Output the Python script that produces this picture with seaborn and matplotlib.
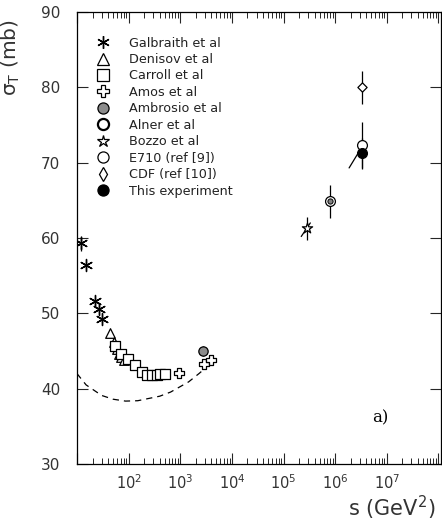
import numpy as np
import pandas as pd
import matplotlib
matplotlib.use("Agg")
import matplotlib.pyplot as plt
from matplotlib.lines import Line2D
import seaborn as sns

# ---------------- data ----------------
galbraith_s = [11.9, 15.1, 21.9, 26.2, 30.4]
galbraith_sig = [59.3, 56.4, 51.7, 50.6, 49.3]
galbraith_err = [1.0, 0.4, 0.4, 0.4, 0.4]

denisov_s = [43, 51, 55, 59, 66, 72, 80]
denisov_sig = [47.4, 46.2, 45.7, 45.3, 44.6, 44.2, 43.8]

carroll_s = [55, 72, 97, 131, 181, 227, 284, 353, 410, 515]
carroll_sig = [45.6, 44.6, 44.0, 43.1, 42.2, 41.85, 41.75, 41.8, 41.9, 41.9]

amos_s = [930, 2840, 3940]
amos_sig = [42.1, 43.3, 43.85]
amos_err = [0.3, 0.3, 0.3]

ambrosio_s = [2760]
ambrosio_sig = [45.0]
ambrosio_err = [0.6]

alner_s = [8.1e5]
alner_sig = [64.9]
alner_err = [2.2]

bozzo_s = [2.9e5]
bozzo_sig = [61.3]
bozzo_err = [1.5]

e710_s = [3.3e6]
e710_sig = [72.3]
e710_err = [3.1]

cdf_s = [3.3e6]
cdf_sig = [80.0]
cdf_err = [2.2]

this_s = [3.3e6]
this_sig = [71.3]
this_err = [2.0]

# dashed curve (theoretical)
curve_s = [10, 15, 30, 50, 87, 150, 245, 400, 650, 1450, 2300, 2800]
curve_sig = [42.0, 40.5, 39.1, 38.6, 38.35, 38.4, 38.7, 39.0, 39.55, 40.9, 42.0, 42.5]

# slanted correlation segments
corr1_s = [2.2e5, 3.3e5]
corr1_sig = [60.2, 62.0]
corr2_s = [1.86e6, 3.3e6]
corr2_sig = [69.3, 72.1]

legend_labels = ["Galbraith et al", "Denisov et al", "Carroll et al", "Amos et al",
                 "Ambrosio et al", "Alner et al", "Bozzo et al", "E710 (ref [9])",
                 "CDF (ref [10])", "This experiment"]

xtick_vals = [1e1, 1e2, 1e3, 1e4, 1e5, 1e6, 1e7, 1e8]
xtick_labels = ["", r"$10^2$", r"$10^3$", r"$10^4$", r"$10^5$", r"$10^6$", r"$10^7$", ""]
ytick_vals = [30, 40, 50, 60, 70, 80, 90]

# ---------------- figure ----------------
sns.set_style("white")
plt.rcParams['font.family'] = ['DejaVu Sans']
fig = plt.figure(figsize=(4.42, 5.23), dpi=100)
ax = fig.add_axes([77/442, 1-464/523, 364/442, 452/523])

K = "black"
ms = 42

def sc(s, sig, marker, face, size=ms, lw=0.9, z=3):
    df = pd.DataFrame({"s": s, "sig": sig})
    sns.scatterplot(data=df, x="s", y="sig", ax=ax, marker=marker, s=size,
                    facecolor=face, edgecolor=K, linewidth=lw, zorder=z, legend=False)

def eb(s, sig, err):
    ax.errorbar(s, sig, yerr=err, fmt="none", ecolor=K, elinewidth=0.9, capsize=0, zorder=2)

# dashed curve
sns.lineplot(x=curve_s, y=curve_sig, ax=ax, color=K, lw=0.9, linestyle=(0, (5, 4)),
             sort=False, estimator=None)

# correlation segments
sns.lineplot(x=corr1_s, y=corr1_sig, ax=ax, color=K, lw=0.9, sort=False, estimator=None)
sns.lineplot(x=corr2_s, y=corr2_sig, ax=ax, color=K, lw=0.9, sort=False, estimator=None)

# error bars
eb(galbraith_s, galbraith_sig, galbraith_err)
eb(amos_s, amos_sig, amos_err)
eb(ambrosio_s, ambrosio_sig, ambrosio_err)
eb(alner_s, alner_sig, alner_err)
eb(bozzo_s, bozzo_sig, bozzo_err)
eb(e710_s, e710_sig, e710_err)
eb(cdf_s, cdf_sig, cdf_err)
eb(this_s, this_sig, this_err)

# markers
ast = (6, 2, 0)
sc(galbraith_s, galbraith_sig, ast, K, size=75, lw=1.0)
sc(denisov_s, denisov_sig, "^", "white", size=48)
sc(carroll_s, carroll_sig, "s", "white", size=58)
sc(amos_s, amos_sig, "P", "white", size=50)
sc(ambrosio_s, ambrosio_sig, "o", "0.55", size=45)
sc(alner_s, alner_sig, "o", "white", size=50)
sc(alner_s, alner_sig, "o", "0.5", size=14, lw=0.7, z=4)
sc(bozzo_s, bozzo_sig, "*", "white", size=60)
sc(e710_s, e710_sig, "o", "white", size=50)
sc(cdf_s, cdf_sig, "D", "white", size=22)
sc(this_s, this_sig, "o", K, size=50, z=5)

# legend
h = []
def lh(marker, face, msz, mew=0.9):
    return Line2D([], [], linestyle="none", marker=marker, markerfacecolor=face,
                  markeredgecolor=K, markersize=msz, markeredgewidth=mew)
h.append(lh(ast, K, 9, 1.0))
h.append(lh("^", "white", 8))
h.append(lh("s", "white", 8))
h.append(lh("P", "white", 8))
h.append(lh("o", "0.55", 8))
h.append(lh("o", "white", 8, 1.6))
h.append(lh("*", "white", 9))
h.append(lh("o", "white", 8))
h.append(lh("d", "white", 7))
h.append(lh("o", K, 8))
leg = ax.legend(h, legend_labels, loc="upper left", bbox_to_anchor=(0.035, 0.957),
                frameon=False, fontsize=9.2, labelspacing=0.27, handletextpad=1.5,
                handlelength=1.2, borderaxespad=0)
for t in leg.get_texts():
    t.set_color("#222222")

# axes
ax.set_xscale("log")
ax.set_xlim(10, 1.12e8)
ax.set_ylim(30, 90)
ax.set_xticks(xtick_vals)
ax.set_xticklabels(xtick_labels)
ax.set_yticks(ytick_vals)
ax.xaxis.set_minor_locator(matplotlib.ticker.LogLocator(base=10, subs=np.arange(2, 10), numticks=20))
ax.xaxis.set_minor_formatter(matplotlib.ticker.NullFormatter())
ax.tick_params(axis="x", which="major", direction="in", length=8, width=0.8,
               top=True, bottom=True, labelsize=10.5, pad=7, labelcolor="#333333")
ax.tick_params(axis="x", which="minor", direction="in", length=4, width=0.7,
               top=True, bottom=True)
ax.tick_params(axis="y", which="major", direction="in", length=8, width=0.8,
               left=True, right=True, labelsize=11, pad=12, labelcolor="#333333")
for sp in ax.spines.values():
    sp.set_linewidth(0.9)
    sp.set_color(K)

ax.set_xlabel("s (GeV$^2$)", fontsize=15, color="#333333")
ax.xaxis.set_label_coords(0.865, -0.065)
ax.set_ylabel(r"σ$_{\rm T}$ (mb)", fontsize=14.5, color="#333333")
ax.yaxis.set_label_coords(-0.15, 0.9)

ax.text(0.832, 0.102, "a)", transform=ax.transAxes, fontsize=12,
        family="DejaVu Serif", ha="center", va="center", color=K)

fig.savefig("out.png", dpi=100)
